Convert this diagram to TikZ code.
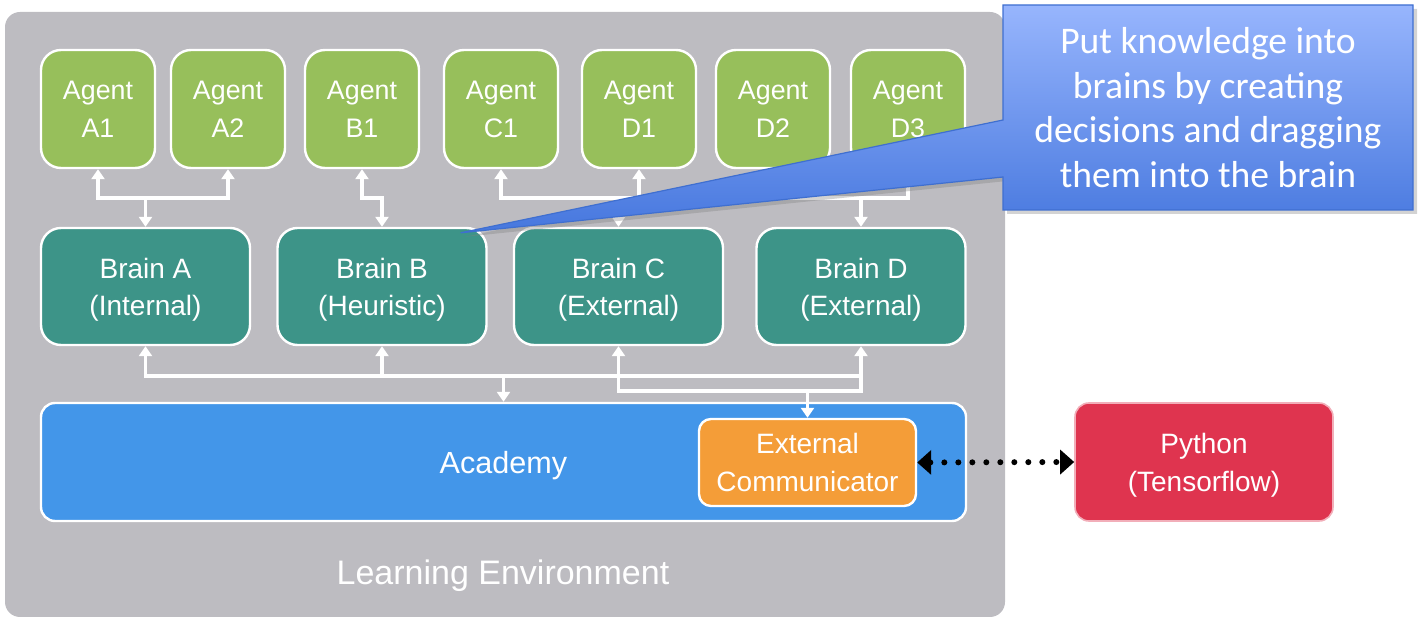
\documentclass[tikz,border=0pt]{standalone}
\usepackage{fontspec}
\setmainfont{Liberation Sans}
\newfontfamily\calloutfont{Carlito}
\usepackage{tikz}
\usetikzlibrary{calc,arrows.meta,positioning,shadows}
\definecolor{envgray}{HTML}{BDBCC1}
\definecolor{agentgreen}{HTML}{97BF5B}
\definecolor{brainteal}{HTML}{3D9488}
\definecolor{academyblue}{HTML}{4396E9}
\definecolor{commorange}{HTML}{F49D38}
\definecolor{pythonred}{HTML}{DF344F}
\definecolor{calltop}{HTML}{97B5FD}
\definecolor{callbottom}{HTML}{4677DE}
\definecolor{callborder}{HTML}{3F6FD0}

\begin{document}
\begin{tikzpicture}[x=0.5pt, y=-0.5pt,
  box/.style={draw=white, line width=1.2pt, text=white, align=center, inner sep=0pt},
  agent/.style={box, fill=agentgreen, rounded corners=10pt, minimum width=57pt, minimum height=59pt, font=\fontsize{13.4}{19}\selectfont},
  brain/.style={box, fill=brainteal, rounded corners=10pt, minimum width=104.5pt, minimum height=58.5pt, font=\fontsize{14}{18.5}\selectfont},
  wire/.style={draw=white, line width=1.8pt, >={Triangle[length=5pt, width=6.5pt]}},
  bigbox/.style={box, minimum height=59pt, rounded corners=7pt}]
\useasboundingbox (0,0) rectangle (1420,625);

% learning environment
\fill[envgray, rounded corners=7.5pt] (5,12) rectangle (1005,617);
\node[white, font=\fontsize{17}{20}\selectfont] (envlabel) at (503,576) {Learning Environment};

% agents and brains
\foreach \name/\x in {A1/98, A2/228, B1/362, C1/501, D1/639, D2/773, D3/908} {
  \node[agent] (ag\name) at (\x,109) {Agent\\\name};
}
\foreach \id/\x/\kind in {A/145.5/Internal, B/382/Heuristic, C/618.5/External, D/861/External} {
  \node[brain] (br\id) at (\x,286.5) {\rule{0pt}{13pt}Brain \id\\(\kind)};
}

\node[bigbox, fill=academyblue, minimum width=462.5pt, font=\fontsize{15.3}{19}\selectfont] (academy) at (503.5,462) {\rule{0pt}{15pt}Academy};
\node[box, fill=commorange, rounded corners=6pt, minimum width=108.5pt, minimum height=43.5pt, font=\fontsize{14}{19}\selectfont] (extcom) at (807.5,462.5) {External\\Communicator};
\node[bigbox, draw=pythonred!40, line width=0.8pt, fill=pythonred, minimum width=129pt, font=\fontsize{14}{19}\selectfont] (python) at (1204,462) {\rule{0pt}{13pt}Python\\(Tensorflow)};

% agent -- brain wires
\coordinate (busA) at ($(agA1.south)+(0,29)$);
\coordinate (busC) at ($(agC1.south)+(0,29)$);
\coordinate (busD) at ($(agD2.south)+(0,29)$);
\draw[wire, <->] (agA1.south) -- (busA) -| (agA2.south);
\draw[wire, ->] (brA.north |- busA) -- (brA.north);
\draw[wire, <->] (agB1.south) -- ++(0,29) -| (brB.north);
\draw[wire, <->] (agC1.south) -- (busC) -| (agD1.south);
\draw[wire, ->] (brC.north |- busC) -- (brC.north);
\draw[wire, <->] (agD2.south) -- (busD) -| (agD3.south);
\draw[wire, ->] (brD.north |- busD) -- (brD.north);

% brain -- academy wires
\coordinate (busL) at ($(brA.south)+(0,30)$);
\coordinate (busE) at ($(brC.south)+(0,45)$);
\draw[wire, <->] (brA.south) -- (busL) -| (brD.south);
\draw[wire, <-] (brB.south) -- (brB.south |- busL);
\draw[wire, <-] (brC.south) -- (busE) -| (brD.south |- busL);
\draw[wire, ->] (academy.north |- busL) -- (academy.north);
\draw[wire, ->] (extcom.north |- busE) -- (extcom.north);

% link to python
\draw[line width=3pt, dash pattern=on 0pt off 7pt, line cap=round,
  {Triangle[length=7pt, width=12pt]}-{Triangle[length=7pt, width=12pt]}] (extcom.east) -- (python.west);

% hint
\coordinate (tip) at ($(brB.north east)+(-27,6)$);
\path[draw=callborder, line width=0.6pt, top color=calltop, bottom color=callbottom,
  drop shadow={shadow xshift=2pt, shadow yshift=-2pt, opacity=0.35}]
  (1003,5) -- (1413,5) -- (1413,210) -- (1003,210) -- (1003,177) -- (tip) -- (1003,120) -- cycle;
\node[text=white, align=center, font=\calloutfont\fontsize{18.8}{22.3}\selectfont] (hint) at (1208,107.5)
  {Put knowledge into\\brains by creating\\decisions and dragging\\them into the brain};
\end{tikzpicture}
\end{document}
